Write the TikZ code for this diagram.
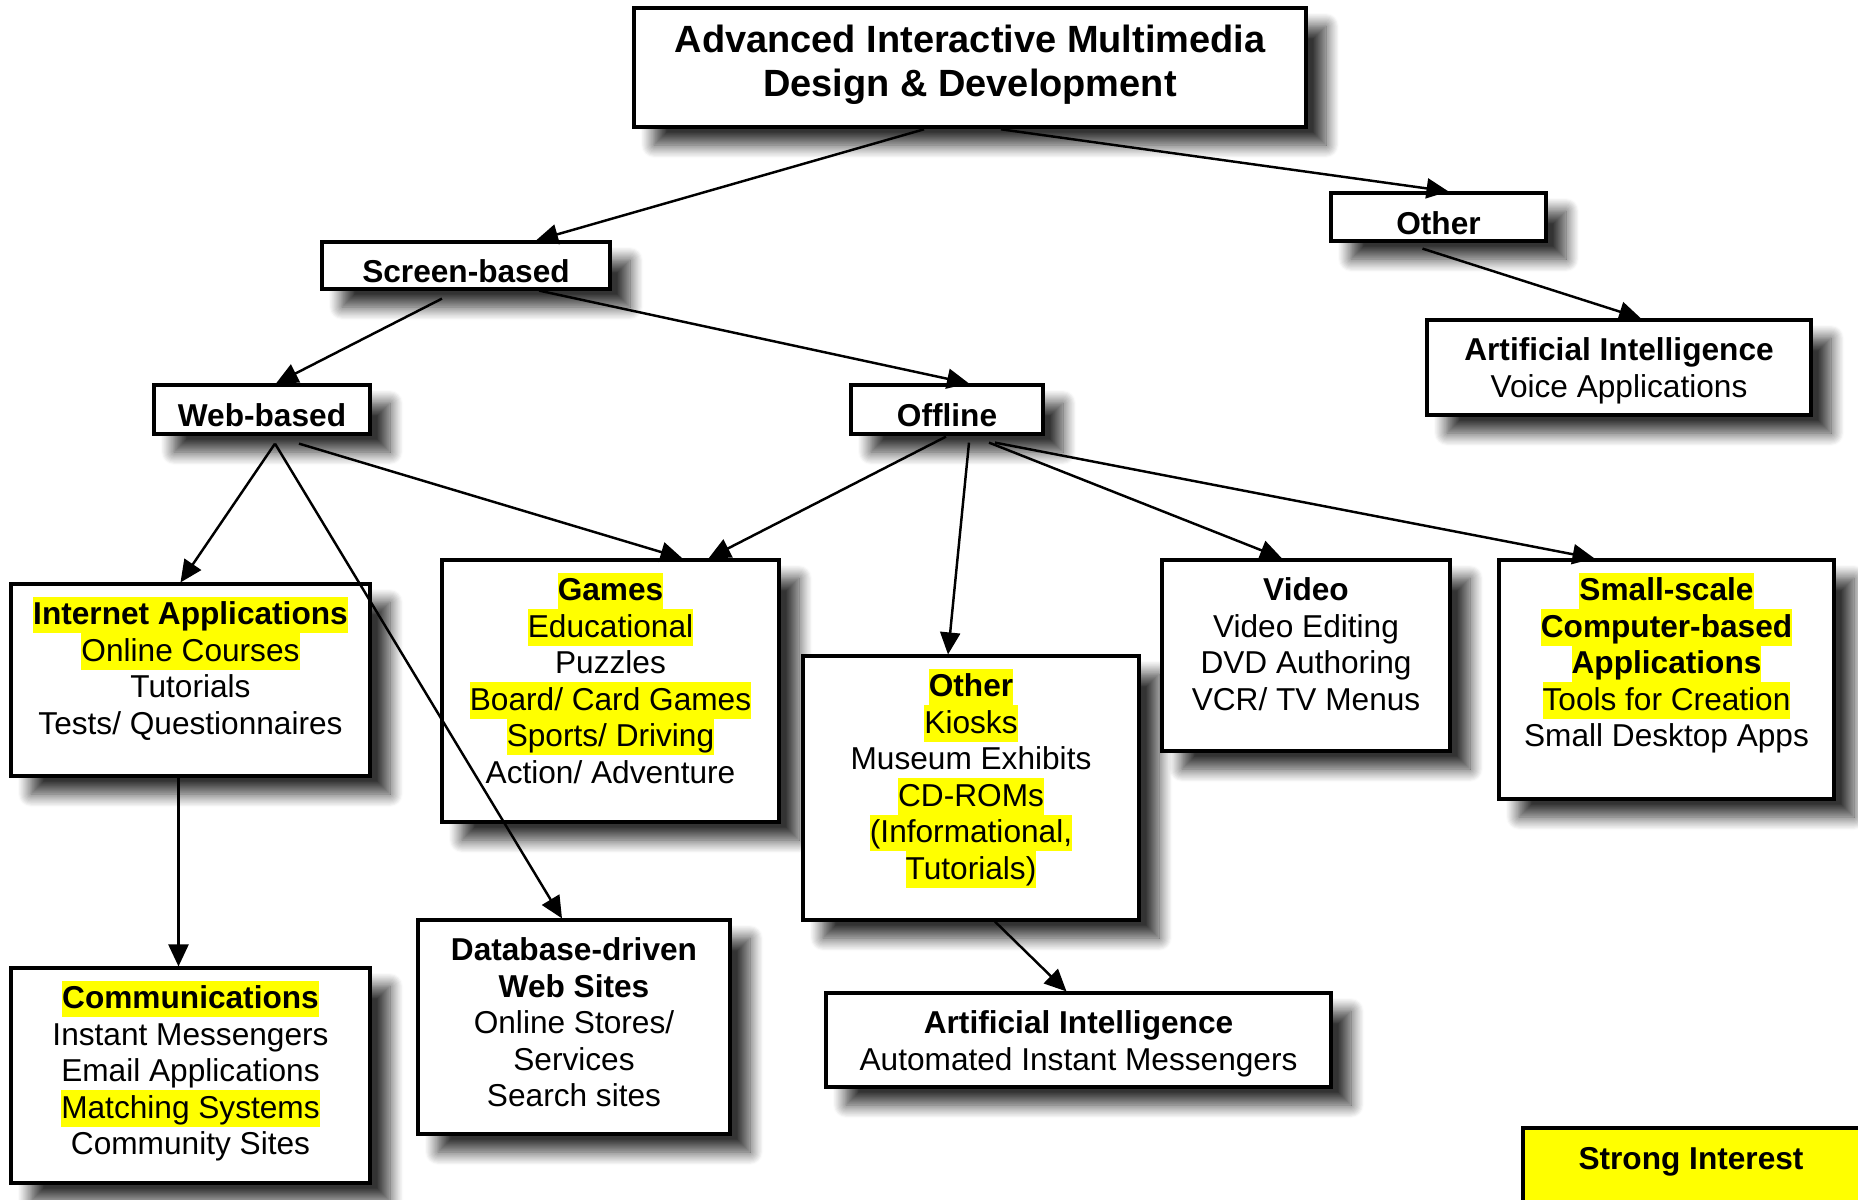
\documentclass[tikz,border=0pt]{standalone}
\usepackage{fontspec}
\setmainfont{Liberation Sans}
\usetikzlibrary{arrows.meta,fit,shadows.blur}

\definecolor{hlyellow}{RGB}{255,255,0}
\newcommand\lstrut{\rule[-2.4pt]{0pt}{10.4pt}}
\newcommand\hl[1]{{\setlength\fboxsep{0pt}\colorbox{hlyellow}{\lstrut#1}}}

\tikzset{
  box/.style={draw,fill=white,line width=0.9pt,inner sep=0pt,
    blur shadow={shadow xshift=2mm,shadow yshift=-1.8mm,
      shadow blur radius=1.3mm,shadow blur steps=12,shadow opacity=80}},
  head/.style={inner sep=0pt,font=\bfseries\fontsize{9}{10.4}\selectfont},
  titletxt/.style={inner sep=0pt,align=center,font=\bfseries\fontsize{10.8}{12.5}\selectfont},
  txt/.style={anchor=north,align=center,inner sep=0pt,
    font=\fontsize{9}{10.4}\selectfont},
  link/.style={->,line width=0.7pt},
}

\begin{document}
\begin{tikzpicture}[x=0.1mm,y=-0.1mm,>={Triangle[length=2.2mm,width=2mm]}]
	\useasboundingbox (0,0) rectangle (1858,1199);
	% boxes
	\node[box,line width=1.3pt,fit={(634,8) (1306,127)}] (title) {};
	\node[titletxt] (titleT) at ([yshift=0.3mm]title.center) {Advanced Interactive Multimedia\\Design \& Development};
	\node[box,fit={(322,242) (610,289)}] (screen) {};
	\node[head] (screenT) at ([yshift=-0.6mm]screen.center) {Screen-based};
	\node[box,fit={(1331,193) (1546,241)}] (other) {};
	\node[head] (otherT) at ([yshift=-0.6mm]other.center) {Other};
	\node[box,fit={(154,385) (370,434)}] (web) {};
	\node[head] (webT) at ([yshift=-0.6mm]web.center) {Web-based};
	\node[box,fit={(851,385) (1043,434)}] (offline) {};
	\node[head] (offlineT) at ([yshift=-0.6mm]offline.center) {Offline};

	\node[box,fit={(1427,320) (1811,415)}] (aivoice) {};
	\node[txt] (aivoiceT) at ([yshift=-1.35mm]aivoice.north) {\lstrut\textbf{Artificial Intelligence}\\Voice Applications};
	\node[box,fit={(11,584) (370,776)}] (internet) {};
	\node[txt] (internetT) at ([yshift=-1.35mm]internet.north) {\hl{\textbf{Internet Applications}}\\\hl{Online Courses}\\Tutorials\\Tests/ Questionnaires};
	\node[box,fit={(442,560) (779,822)}] (games) {};
	\node[txt] (gamesT) at ([yshift=-1.35mm]games.north) {\hl{\textbf{Games}}\\\hl{Educational}\\Puzzles\\\hl{Board/ Card Games}\\\hl{Sports/ Driving}\\Action/ Adventure};
	\node[box,fit={(803,656) (1139,920)}] (otheroff) {};
	\node[txt] (otheroffT) at ([yshift=-1.35mm]otheroff.north) {\hl{\textbf{Other}}\\\hl{Kiosks}\\Museum Exhibits\\\hl{CD-ROMs}\\\hl{(Informational,}\\\hl{Tutorials)}};
	\node[box,fit={(1162,560) (1450,751)}] (video) {};
	\node[txt] (videoT) at ([yshift=-1.35mm]video.north) {\lstrut\textbf{Video}\\Video Editing\\DVD Authoring\\VCR/ TV Menus};
	\node[box,fit={(1499,560) (1834,799)}] (small) {};
	\node[txt] (smallT) at ([yshift=-1.35mm]small.north) {\hl{\textbf{Small-scale}}\\\hl{\textbf{Computer-based}}\\\hl{\textbf{Applications}}\\\hl{Tools for Creation}\\Small Desktop Apps};
	\node[box,fit={(11,968) (370,1183)}] (comm) {};
	\node[txt] (commT) at ([yshift=-1.35mm]comm.north) {\hl{\textbf{Communications}}\\Instant Messengers\\Email Applications\\\hl{Matching Systems}\\Community Sites};
	\node[box,fit={(418,920) (730,1134)}] (db) {};
	\node[txt] (dbT) at ([yshift=-1.35mm]db.north) {\lstrut\textbf{Database-driven}\\\textbf{Web Sites}\\Online Stores/\\Services\\Search sites};
	\node[box,fit={(826,993) (1331,1087)}] (aimsg) {};
	\node[txt] (aimsgT) at ([yshift=-1.35mm]aimsg.north) {\lstrut\textbf{Artificial Intelligence}\\Automated Instant Messengers};

	\node[draw,fill=hlyellow,line width=0.9pt,inner sep=0pt,fit={(1523,1128) (1900,1260)}] (strong) {};
	\node[head] (strongT) at (1691,1162) {Strong Interest};

	% connectors
	\draw[link] ([shift={(-46,0)}]title.south) -- ([shift={(70,0)}]screen.north);
	\draw[link] ([shift={(31,0)}]title.south) -- ([shift={(10,0)}]other.north);
	\draw[link] ([shift={(-24,8)}]screen.south) -- ([shift={(14,0)}]web.north);
	\draw[link] ([shift={(73,0)}]screen.south) -- ([shift={(22,0)}]offline.north);
	\draw[link] ([shift={(-16,6)}]other.south) -- ([shift={(22,0)}]aivoice.north);
	\draw[link] ([shift={(13,8)}]web.south) -- ([shift={(-10,0)}]internet.north);
	\draw[link] ([shift={(13,8)}]web.south) -- ([shift={(-12,0)}]db.north);
	\draw[link] ([shift={(37,8)}]web.south) -- ([shift={(72,0)}]games.north);
	\draw[link] ([shift={(-1,1)}]offline.south) -- ([shift={(98,0)}]games.north);
	\draw[link] ([shift={(22,7)}]offline.south) -- ([shift={(-23,0)}]otheroff.north);
	\draw[link] ([shift={(42,7)}]offline.south) -- ([shift={(-24,0)}]video.north);
	\draw[link] ([shift={(48,7)}]offline.south) -- ([shift={(-72,0)}]small.north);
	\draw[link] ([shift={(-12,0)}]internet.south) -- ([shift={(-12,0)}]comm.north);
	\draw[link] ([shift={(24,0)}]otheroff.south) -- ([shift={(-12,0)}]aimsg.north);
\end{tikzpicture}
\end{document}
